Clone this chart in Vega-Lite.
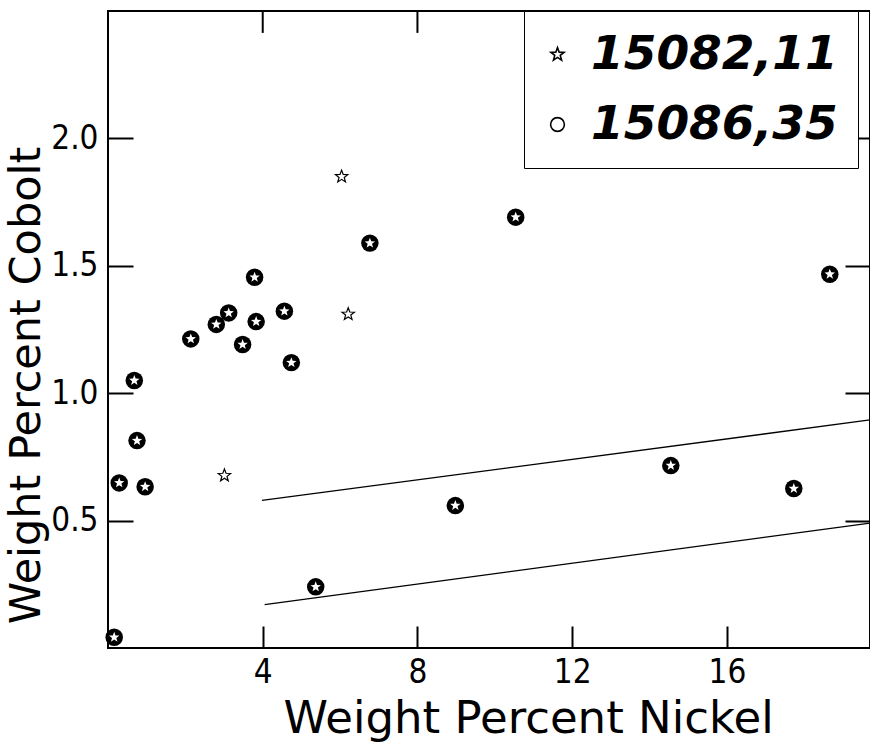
{
  "$schema": "https://vega.github.io/schema/vega-lite/v6.json",
  "autosize": {"type": "none"},
  "padding": {"left": 108, "top": 11, "right": 0, "bottom": 98},
  "width": 762,
  "height": 637,
  "background": "white",
  "config": {
    "view": {"stroke": "black", "strokeWidth": 2},
    "axis": {
      "domain": false,
      "grid": false,
      "tickColor": "black",
      "tickWidth": 2,
      "labelColor": "black",
      "titleColor": "black",
      "labelFont": "DejaVu Sans Condensed, Liberation Sans Narrow, sans-serif",
      "labelFontSize": 33,
      "titleFont": "DejaVu Sans",
      "titleFontWeight": "normal"
    }
  },
  "datasets": {
    "pts": [
      {"ni": 6.04, "co": 1.85, "sample": "15082,11"},
      {"ni": 6.21, "co": 1.31, "sample": "15082,11"},
      {"ni": 3.01, "co": 0.677, "sample": "15082,11"},
      {"ni": 0.16, "co": 0.042, "sample": "15086,35"},
      {"ni": 0.29, "co": 0.648, "sample": "15086,35"},
      {"ni": 0.68, "co": 1.05, "sample": "15086,35"},
      {"ni": 0.75, "co": 0.814, "sample": "15086,35"},
      {"ni": 0.96, "co": 0.633, "sample": "15086,35"},
      {"ni": 2.14, "co": 1.213, "sample": "15086,35"},
      {"ni": 2.8, "co": 1.27, "sample": "15086,35"},
      {"ni": 3.12, "co": 1.315, "sample": "15086,35"},
      {"ni": 3.48, "co": 1.191, "sample": "15086,35"},
      {"ni": 3.79, "co": 1.455, "sample": "15086,35"},
      {"ni": 3.83, "co": 1.281, "sample": "15086,35"},
      {"ni": 4.56, "co": 1.322, "sample": "15086,35"},
      {"ni": 4.74, "co": 1.12, "sample": "15086,35"},
      {"ni": 6.77, "co": 1.589, "sample": "15086,35"},
      {"ni": 10.54, "co": 1.691, "sample": "15086,35"},
      {"ni": 5.37, "co": 0.24, "sample": "15086,35"},
      {"ni": 8.98, "co": 0.559, "sample": "15086,35"},
      {"ni": 14.55, "co": 0.716, "sample": "15086,35"},
      {"ni": 17.73, "co": 0.626, "sample": "15086,35"},
      {"ni": 18.66, "co": 1.467, "sample": "15086,35"}
    ],
    "lines": [
      {"ni": 3.98, "co": 0.579, "line": "upper"},
      {"ni": 19.7, "co": 0.895, "line": "upper"},
      {"ni": 4.05, "co": 0.17, "line": "lower"},
      {"ni": 19.7, "co": 0.49, "line": "lower"}
    ],
    "topticks": [
      {"ni": 4}, {"ni": 8}, {"ni": 12}, {"ni": 16}
    ]
  },
  "layer": [
    {
      "data": {"name": "lines"},
      "mark": {"type": "line", "color": "black", "strokeWidth": 1.3},
      "encoding": {
        "x": {
          "field": "ni", "type": "quantitative",
          "scale": {"domain": [0, 19.7], "nice": false, "zero": false},
          "axis": {
            "orient": "bottom",
            "values": [4, 8, 12, 16],
            "format": "d",
            "tickSize": -22,
            "labelPadding": 30,
            "title": "Weight  Percent Nickel",
            "titleFontSize": 45,
            "titleX": 420,
            "titleY": 84,
            "titleAlign": "center",
            "titleBaseline": "alphabetic"
          }
        },
        "y": {
          "field": "co", "type": "quantitative",
          "scale": {"domain": [0, 2.5], "nice": false, "zero": false},
          "axis": {
            "orient": "left",
            "values": [0.5, 1.0, 1.5, 2.0],
            "format": ".1f",
            "tickSize": -25,
            "labelPadding": 35,
            "title": "Weight  Percent  Cobolt",
            "titleFontSize": 43,
            "titleAngle": -90,
            "titleX": -60,
            "titleY": 374,
            "titleAlign": "center",
            "titleBaseline": "bottom"
          }
        },
        "detail": {"field": "line", "type": "nominal"}
      }
    },
    {
      "data": {"name": "topticks"},
      "mark": {"type": "rule", "color": "black", "strokeWidth": 2},
      "encoding": {
        "x": {"field": "ni", "type": "quantitative", "axis": null},
        "y": {"datum": 2.5, "type": "quantitative", "axis": null},
        "y2": {"datum": 2.414}
      }
    },
    {
      "data": {"name": "pts"},
      "transform": [{"filter": "datum.sample === '15082,11'"}],
      "mark": {"type": "point", "filled": false, "color": "black", "strokeWidth": 1.2, "size": 170, "opacity": 1},
      "encoding": {
        "x": {"field": "ni", "type": "quantitative", "axis": null},
        "y": {"field": "co", "type": "quantitative", "axis": null},
        "shape": {
          "field": "sample", "type": "nominal",
          "scale": {"domain": ["15082,11", "15086,35"], "range": ["M0,-1L0.247,-0.34L0.951,-0.309L0.399,0.13L0.588,0.809L0,0.42L-0.588,0.809L-0.399,0.13L-0.951,-0.309L-0.247,-0.34Z", "circle"]},
          "legend": {
            "title": null,
            "orient": "none",
            "legendX": 416,
            "legendY": 0,
            "strokeColor": "black",
            "fillColor": "white",
            "padding": 20,
            "rowPadding": 22,
            "symbolSize": 190,
            "symbolOffset": -10,
            "symbolStrokeColor": "black",
            "symbolFillColor": "white",
            "symbolStrokeWidth": 1.6,
            "labelFont": "DejaVu Sans",
            "labelFontWeight": "bold",
            "labelFontStyle": "italic",
            "labelFontSize": 47,
            "labelColor": "black",
            "labelOffset": 10,
            "labelLimit": 400,
            "encode": {
              "legend": {"update": {"strokeWidth": {"value": 2}}}
            }
          }
        }
      }
    },
    {
      "data": {"name": "pts"},
      "transform": [{"filter": "datum.sample === '15086,35'"}],
      "mark": {"type": "point", "filled": true, "color": "black", "size": 306, "opacity": 1},
      "encoding": {
        "x": {"field": "ni", "type": "quantitative", "axis": null},
        "y": {"field": "co", "type": "quantitative", "axis": null},
        "shape": {"field": "sample", "type": "nominal"}
      }
    },
    {
      "data": {"name": "pts"},
      "transform": [{"filter": "datum.sample === '15086,35'"}],
      "mark": {"type": "point", "shape": "M0,-1L0.247,-0.34L0.951,-0.309L0.399,0.13L0.588,0.809L0,0.42L-0.588,0.809L-0.399,0.13L-0.951,-0.309L-0.247,-0.34Z", "filled": true, "color": "white", "size": 120, "opacity": 1},
      "encoding": {
        "x": {"field": "ni", "type": "quantitative", "axis": null},
        "y": {"field": "co", "type": "quantitative", "axis": null}
      }
    },
    {
      "data": {"name": "lines"},
      "mark": {"type": "rule", "opacity": 0},
      "encoding": {
        "x": {"field": "ni", "type": "quantitative", "axis": null},
        "y": {"field": "co", "type": "quantitative", "axis": {"orient": "right", "values": [0.5, 1.0, 1.5, 2.0], "labels": false, "title": null, "tickSize": -25}}
      }
    }
  ],
  "resolve": {"axis": {"x": "independent", "y": "independent"}}
}
